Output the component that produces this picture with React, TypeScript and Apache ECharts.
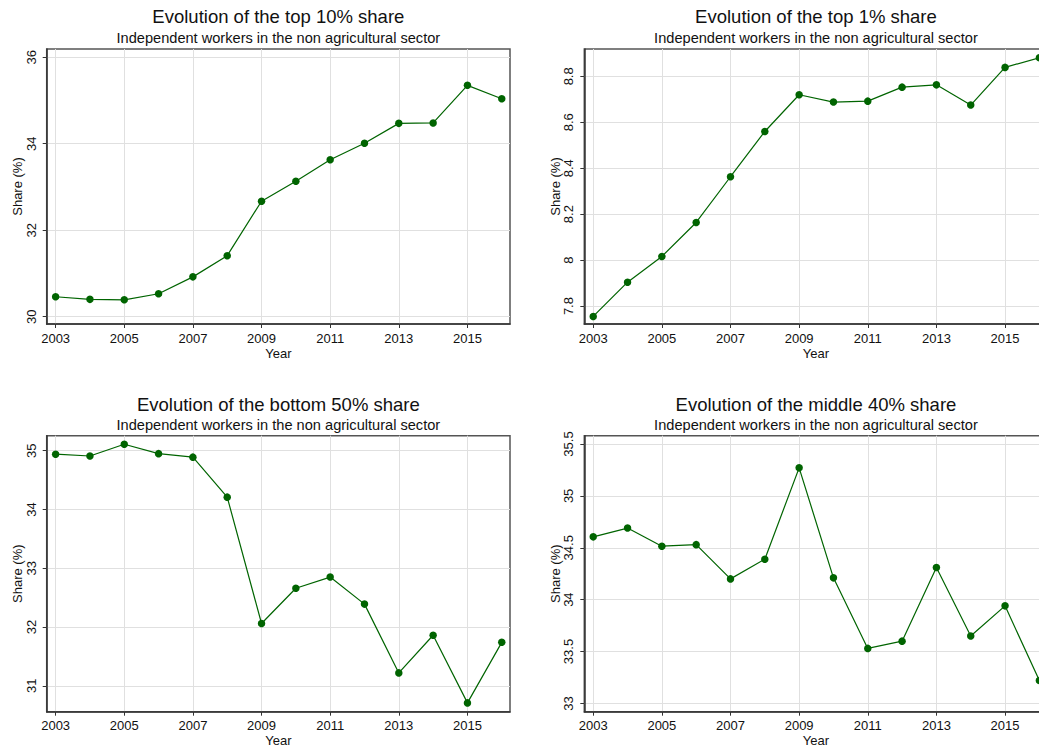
import React, { useEffect, useRef } from "react";
import * as echarts from "echarts";

const years = [2003, 2004, 2005, 2006, 2007, 2008, 2009, 2010, 2011, 2012, 2013, 2014, 2015, 2016];
const top10 = [30.46, 30.4, 30.39, 30.53, 30.92, 31.41, 32.67, 33.13, 33.63, 34.01, 34.47, 34.48, 35.35, 35.04];
const top1 = [7.755, 7.904, 8.016, 8.164, 8.363, 8.56, 8.72, 8.688, 8.692, 8.753, 8.763, 8.675, 8.839, 8.881];
const bottom50 = [34.94, 34.91, 35.11, 34.95, 34.89, 34.21, 32.06, 32.66, 32.85, 32.39, 31.22, 31.86, 30.71, 31.74];
const middle40 = [34.605, 34.69, 34.515, 34.53, 34.2, 34.39, 35.27, 34.21, 33.53, 33.6, 34.31, 33.65, 33.94, 33.22];

const xTicks = [2003, 2005, 2007, 2009, 2011, 2013, 2015];
const yTicksTop10 = [30, 32, 34, 36];
const yTicksTop1 = [7.8, 8.0, 8.2, 8.4, 8.6, 8.8];
const yTicksBottom50 = [31, 32, 33, 34, 35];
const yTicksMiddle40 = [33, 33.5, 34, 34.5, 35, 35.5];

const titles = [
  "Evolution of the top 10% share",
  "Evolution of the top 1% share",
  "Evolution of the bottom 50% share",
  "Evolution of the middle 40% share",
];
const subtitle = "Independent workers in the non agricultural sector";

const FONT = "'Liberation Sans', Arial, Helvetica, sans-serif";

export default function App() {
  const ref = useRef<HTMLDivElement>(null);
  useEffect(() => {
    if (!ref.current) return;
    const chart = echarts.init(ref.current, undefined, { renderer: "svg" });

    const W = 463.3;
    const lefts = [46.7, 584.3, 46.7, 584.3];
    const tops = [49, 49, 435.7, 435.7];
    const heights = [275, 275, 276, 276];
    const yRanges = [
      [29.83, 36.19],
      [7.722, 8.919],
      [30.56, 35.255],
      [32.92, 35.58],
    ];
    const yTicks = [yTicksTop10, yTicksTop1, yTicksBottom50, yTicksMiddle40];
    const datasets = [top10, top1, bottom50, middle40];
    const titleTops = [7, 7, 394.5, 394.5];
    const subTops = [30.7, 30.7, 417.4, 417.4];

    const fmt = (v: number) => String(Number(Number(v).toFixed(2)));

    const option: any = {
      animation: false,
      backgroundColor: "#ffffff",
      title: [0, 1, 2, 3].flatMap((i) => [
        {
          text: titles[i],
          left: lefts[i] + W / 2,
          top: titleTops[i],
          textAlign: "center",
          padding: 0,
          textStyle: { fontFamily: FONT, fontSize: 18.5, fontWeight: "normal", color: "#111" },
        },
        {
          text: subtitle,
          left: lefts[i] + W / 2,
          top: subTops[i],
          textAlign: "center",
          padding: 0,
          textStyle: { fontFamily: FONT, fontSize: 14.6, fontWeight: "normal", color: "#111" },
        },
      ]),
      grid: [0, 1, 2, 3].map((i) => ({
        left: lefts[i],
        top: tops[i],
        width: W,
        height: heights[i],
        show: true,
        borderColor: "#555",
        borderWidth: 1.5,
        backgroundColor: "transparent",
        containLabel: false,
        outerBoundsMode: "none",
      })),
      xAxis: [0, 1, 2, 3].map((i) => ({
        type: "value",
        gridIndex: i,
        min: 2002.74,
        max: 2016.24,
        name: "Year",
        nameLocation: "middle",
        nameGap: 22.5,
        nameMoveOverlap: false,
        nameTextStyle: { fontFamily: FONT, fontSize: 13, color: "#111" },
        axisLine: { show: true, onZero: false, lineStyle: { color: "#333", width: 1.5 } },
        axisTick: { show: true, length: 4, customValues: xTicks, lineStyle: { color: "#333", width: 1 } },
        axisLabel: {
          customValues: xTicks,
          margin: 7.5,
          fontFamily: FONT,
          fontSize: 13,
          color: "#111",
          formatter: (v: number) => String(Math.round(v)),
        },
        splitLine: { show: true, lineStyle: { color: "#e0e0e0", width: 1 } },
      })),
      yAxis: [0, 1, 2, 3].map((i) => ({
        type: "value",
        gridIndex: i,
        min: yRanges[i][0],
        max: yRanges[i][1],
        name: "Share (%)",
        nameLocation: "middle",
        nameGap: 22.5,
        nameMoveOverlap: false,
        nameTextStyle: { fontFamily: FONT, fontSize: 13, color: "#111" },
        axisLine: { show: true, onZero: false, lineStyle: { color: "#333", width: 1.5 } },
        axisTick: { show: true, length: 4, customValues: yTicks[i], lineStyle: { color: "#333", width: 1 } },
        axisLabel: {
          customValues: yTicks[i],
          rotate: 90,
          margin: 9,
          fontFamily: FONT,
          fontSize: 13,
          color: "#111",
          formatter: fmt,
        },
        splitLine: { show: true, lineStyle: { color: "#e0e0e0", width: 1 } },
      })),
      series: [0, 1, 2, 3].map((i) => ({
        type: "line",
        xAxisIndex: i,
        yAxisIndex: i,
        data: years.map((y, k) => [y, datasets[i][k]]),
        symbol: "circle",
        symbolSize: 7.5,
        showSymbol: true,
        clip: false,
        lineStyle: { color: "#006400", width: 1.2 },
        itemStyle: { color: "#006400" },
      })),
    };
    chart.setOption(option);
    return () => chart.dispose();
  }, []);

  return (
    <div
      style={{
        position: "fixed",
        left: 0,
        top: 0,
        width: 1039,
        height: 747,
        overflow: "hidden",
        background: "#fff",
      }}
    >
      <div ref={ref} style={{ width: 1076, height: 747 }} />
    </div>
  );
}
